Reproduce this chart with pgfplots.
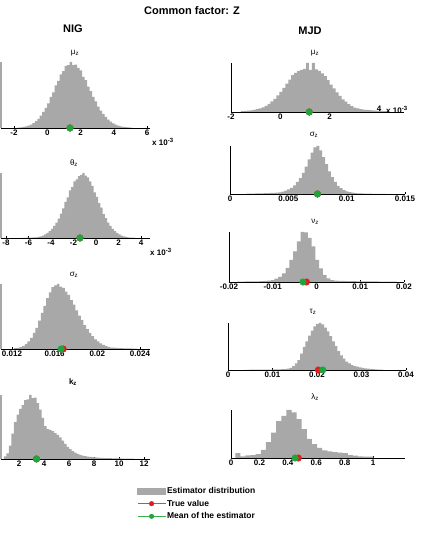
\documentclass[border=0pt]{standalone}
\usepackage{fontspec}
\setmainfont{Liberation Sans}
\usepackage{pgfplots}
\pgfplotsset{compat=1.18}
\definecolor{histgray}{RGB}{168,168,168}
\definecolor{dotgreen}{RGB}{32,165,60}
\definecolor{dotred}{RGB}{225,30,30}
\definecolor{legred}{RGB}{185,85,85}
\definecolor{leggreen}{RGB}{60,175,80}
\pgfplotsset{
 hist/.style={scale only axis, clip=false, anchor=south west,
   axis x line*=bottom, axis y line*=left, ymin=0, ytick=\empty,
   tick align=inside, major tick length=2pt,
   x axis line style={black, line width=0.7pt},
   xtick style={black, line width=0.6pt},
   xticklabel style={font=\bfseries\fontsize{8}{9}\selectfont, inner sep=1.5pt},
   scaled x ticks=false},
 nig/.style={hist, y axis line style={histgray, line width=1.6pt}},
 mjd/.style={hist, y axis line style={black, line width=0.6pt}},
 histbar/.style={const plot, fill=histgray, draw=none},
 truedot/.style={only marks, mark=*, mark size=3.3pt, color=dotred},
 meandot/.style={only marks, mark=*, mark size=3.3pt, color=dotgreen},
}
\newcommand{\ttl}[1]{\fontsize{8}{9}\selectfont #1}
\begin{document}
\begin{tikzpicture}
\path[use as bounding box] (0,0) rectangle (420pt,537pt);

% NIG mu_z
\begin{axis}[nig, at={(1pt,409pt)}, width=149pt, height=66pt,
  xmin=-2.78, xmax=6.18, ymax=102, xtick={-2,0,2,4,6}, xticklabels={-2,0,2,4,6}]
\addplot[histbar] table[row sep=\\, x expr={-1.8+0.15*\coordindex}, y=h] {h\\
0.6\\1.0\\1.6\\2.4\\3.6\\5.3\\7.5\\10.5\\14\\19\\25\\31\\38\\48\\55\\66\\73\\83\\88\\96\\97\\102\\97\\98\\93\\89\\79\\74\\64\\57\\48\\41\\33\\27\\22\\17\\13\\9.7\\7.2\\5.2\\3.7\\2.6\\1.8\\1.2\\0.8\\0.5\\0\\} \closedcycle;
\addplot[truedot] coordinates {(1.37,0)};
\addplot[meandot] coordinates {(1.37,0)};
\end{axis}

% NIG theta_z
\begin{axis}[nig, at={(1pt,299pt)}, width=149pt, height=65pt,
  xmin=-8.44, xmax=4.8, ymax=101, xtick={-8,-6,-4,-2,0,2,4}, xticklabels={-8,-6,-4,-2,0,2,4}]
\addplot[histbar] table[row sep=\\, x expr={-6.6+0.2*\coordindex}, y=h] {h\\
0.3\\0.3\\0.4\\0.5\\0.6\\0.8\\1.1\\1.7\\2.6\\3.8\\5.5\\7.8\\10.6\\14\\19\\24\\30\\38\\46\\56\\63\\74\\79\\88\\91\\96\\98\\101\\97\\94\\88\\81\\71\\64\\54\\47\\37\\31\\24\\19\\14\\10.6\\7.8\\5.5\\3.8\\2.6\\1.7\\1.1\\0.7\\0.5\\0.3\\0\\} \closedcycle;
\addplot[truedot] coordinates {(-1.42,0)};
\addplot[meandot] coordinates {(-1.42,0)};
\end{axis}

% NIG sigma_z
\begin{axis}[nig, at={(1pt,188pt)}, width=149pt, height=65pt,
  xmin=0.01097, xmax=0.02494, ymax=101, xtick={0.012,0.016,0.02,0.024}, xticklabels={0.012,0.016,0.02,0.024}]
\addplot[histbar] table[row sep=\\, x expr={0.0122+0.00025*\coordindex}, y=h] {h\\
1.2\\1.7\\2.9\\4.9\\7.8\\11.7\\17.4\\25\\33\\44\\56\\67\\79\\88\\96\\99\\101\\97\\95\\89\\84\\76\\69\\60\\52\\45\\37\\31\\25\\20\\15\\12\\8.8\\6.5\\4.7\\3.3\\2.3\\2.0\\1.8\\1.5\\1.3\\1.1\\0.9\\0.8\\0.6\\0.5\\0\\} \closedcycle;
\addplot[truedot] coordinates {(0.0168,0)};
\addplot[meandot] coordinates {(0.0166,0)};
\end{axis}

% NIG k_z
\begin{axis}[nig, at={(1pt,78pt)}, width=149pt, height=64pt,
  xmin=0.56, xmax=12.48, ymax=101, xtick={2,4,6,8,10,12}, xticklabels={2,4,6,8,10,12}]
\addplot[histbar] table[row sep=\\, x expr={0.8+0.2*\coordindex}, y=h] {h\\
4\\9\\21\\40\\58\\70\\79\\85\\93\\94\\101\\96\\97\\88\\78\\65\\52\\47\\46\\44\\41\\38\\34\\29\\24\\19\\15.5\\12.5\\10\\8\\6.5\\5.5\\4.6\\3.9\\3.4\\2.9\\2.5\\2.1\\1.9\\1.6\\1.4\\1.3\\1.2\\1.0\\0.9\\0.9\\0.8\\0.7\\0.6\\0.5\\0.5\\0.4\\0\\} \closedcycle;
\addplot[truedot] coordinates {(3.4,0)};
\addplot[meandot] coordinates {(3.4,0)};
\end{axis}

% MJD mu_z
\begin{axis}[mjd, at={(231pt,425pt)}, width=173pt, height=49pt,
  xmin=-2, xmax=5.01, ymax=100, xtick={-2,0,2,4}, xticklabels={-2,0,2,{}}]
\addplot[histbar] table[row sep=\\, x expr={-1.6+0.12*\coordindex}, y=h] {h\\
2\\2.5\\3\\3.5\\4.5\\6\\7.5\\9.5\\12.5\\16.7\\21.6\\27\\34\\41\\49\\58\\66\\75\\80\\84\\86\\88\\100\\86\\100\\87\\84\\79\\73\\65\\56\\48\\40\\33\\26\\21\\16\\12\\9\\7.5\\6\\5\\4.5\\4\\3.5\\3\\2.5\\2.5\\2\\2\\0\\} \closedcycle;
\addplot[truedot] coordinates {(1.17,0)};
\addplot[meandot] coordinates {(1.17,0)};
\end{axis}

% MJD sigma_z
\begin{axis}[mjd, at={(230pt,343pt)}, width=175pt, height=48pt,
  xmin=0, xmax=0.015, ymax=100, xtick={0,0.005,0.01,0.015}, xticklabels={0,0.005,0.01,0.015}]
\addplot[histbar] table[row sep=\\, x expr={0.0014+0.00025*\coordindex}, y=h] {h\\
0.8\\0.9\\1.0\\1.2\\1.3\\1.4\\1.6\\1.9\\2.1\\2.4\\2.9\\3.6\\5\\7\\9.5\\13\\18\\25\\33\\44\\57\\72\\86\\97\\100\\91\\77\\62\\47\\35\\25\\17\\12\\8\\5.5\\3.8\\2.7\\1.9\\1.4\\1.1\\0.9\\0.8\\0.6\\0.5\\0.4\\0.3\\0.3\\0.2\\0\\} \closedcycle;
\addplot[truedot] coordinates {(0.0075,0)};
\addplot[meandot] coordinates {(0.0075,0)};
\end{axis}

% MJD nu_z
\begin{axis}[mjd, at={(229pt,255pt)}, width=175pt, height=50pt,
  xmin=-0.02, xmax=0.02, ymax=100, xtick={-0.02,-0.01,0,0.01,0.02}, xticklabels={-0.02,-0.01,0,0.01,0.02}]
\addplot[histbar] table[row sep=\\, x expr={-0.018107+0.00085*\coordindex}, y=h] {h\\
0.8\\0.8\\1.0\\1.0\\1.2\\1.3\\1.5\\2.0\\2.5\\3.5\\6.5\\10\\17\\28\\44\\61\\81\\100\\99\\88\\71\\44\\27\\14\\7\\3.5\\2.5\\2.2\\2.0\\1.8\\1.6\\1.5\\1.4\\1.3\\1.2\\1.1\\1.0\\1.0\\0.9\\0.9\\0.8\\0.8\\0.7\\0\\} \closedcycle;
\addplot[truedot] coordinates {(-0.0023,0)};
\addplot[meandot] coordinates {(-0.0031,0)};
\end{axis}

% MJD tau_z
\begin{axis}[mjd, at={(228pt,167pt)}, width=178pt, height=47pt,
  xmin=0, xmax=0.04, ymax=100, xtick={0,0.01,0.02,0.03,0.04}, xticklabels={0,0.01,0.02,0.03,0.04}]
\addplot[histbar] table[row sep=\\, x expr={0.0036+0.0006*\coordindex}, y=h] {h\\
0.5\\0.5\\0.6\\0.6\\0.7\\0.7\\0.8\\0.8\\0.9\\1.0\\1.0\\1.1\\1.2\\1.4\\1.6\\2.0\\2.8\\4.4\\8\\14\\21\\35\\49\\61\\73\\84\\93\\98\\100\\97\\90\\82\\72\\61\\51\\40\\31\\24\\18\\14\\10.5\\8.5\\7\\5.5\\4.5\\3.6\\3\\2.4\\1.9\\1.4\\1.0\\0.6\\0\\} \closedcycle;
\addplot[truedot] coordinates {(0.0203,0)};
\addplot[meandot] coordinates {(0.0213,0)};
\end{axis}

% MJD lambda_z
\begin{axis}[mjd, at={(231pt,79pt)}, width=174pt, height=48pt,
  xmin=0, xmax=1.225, ymax=100, xtick={0,0.2,0.4,0.6,0.8,1}, xticklabels={0,0.2,0.4,0.6,0.8,1}]
\addplot[histbar] table[row sep=\\, x expr={0.03+0.036*\coordindex}, y=h] {h\\
10\\3.5\\5.5\\6\\8\\17\\33\\53\\77\\88\\100\\95\\81\\60\\40\\29\\21\\16\\14\\12\\11\\10\\6\\5\\3.5\\3\\3\\0\\} \closedcycle;
\addplot[truedot] coordinates {(0.474,0)};
\addplot[meandot] coordinates {(0.451,0)};
\end{axis}

% legend
\begin{axis}[hide axis, scale only axis, width=10pt, height=10pt,
  at={(137pt,51pt)}, anchor=north west, xmin=0, xmax=1, ymin=0, ymax=1,
  legend cell align=left,
  legend style={at={(0,1)}, anchor=north west, draw=none, fill=none,
    inner sep=0pt, row sep=3pt, nodes={inner sep=1pt},
    font=\bfseries\fontsize{8.5}{10}\selectfont}]
\addlegendimage{legend image code/.code={\fill[histgray] (0pt,-3.3pt) rectangle (28pt,3.3pt);}}
\addlegendentry{Estimator distribution}
\addlegendimage{legend image code/.code={\draw[legred, line width=0.8pt] (0pt,0pt) -- (28pt,0pt); \fill[dotred] (14pt,0pt) circle (2.3pt);}}
\addlegendentry{True value}
\addlegendimage{legend image code/.code={\draw[leggreen, line width=0.6pt] (0pt,0pt) -- (28pt,0pt); \fill[dotgreen] (14pt,0pt) circle (2.3pt);}}
\addlegendentry{Mean of the estimator}
\end{axis}

% titles and labels
\node[font=\bfseries\fontsize{11}{13}\selectfont] at (192pt,526pt) {Common factor: Z};
\node[font=\bfseries\fontsize{11}{13}\selectfont] at (73pt,508pt) {NIG};
\node[font=\bfseries\fontsize{11}{13}\selectfont] at (310pt,506pt) {MJD};
\node at (75pt,484pt) {\ttl{μ\textsubscript{z}}};
\node at (74pt,374pt) {\ttl{θ\textsubscript{z}}};
\node at (74pt,262pt) {\ttl{σ\textsubscript{z}}};
\node at (73pt,155pt) {\ttl{\bfseries k\textsubscript{z}}};
\node at (315pt,484pt) {\ttl{μ\textsubscript{z}}};
\node at (314pt,402pt) {\ttl{σ\textsubscript{z}}};
\node at (315pt,315pt) {\ttl{ν\textsubscript{z}}};
\node at (313pt,225pt) {\ttl{τ\textsubscript{z}}};
\node at (315pt,140pt) {\ttl{λ\textsubscript{z}}};
\node[anchor=west, inner sep=0pt, font=\bfseries\fontsize{8}{9}\selectfont] at (152pt,395pt) {x 10\textsuperscript{-3}};
\node[anchor=west, inner sep=0pt, font=\bfseries\fontsize{8}{9}\selectfont] at (150pt,285pt) {x 10\textsuperscript{-3}};
\node[inner sep=0pt, font=\bfseries\fontsize{8}{9}\selectfont] at (379pt,428pt) {4};
\node[anchor=west, inner sep=0pt, font=\bfseries\fontsize{8}{9}\selectfont] at (386pt,427pt) {x 10\textsuperscript{-3}};
\end{tikzpicture}
\end{document}
